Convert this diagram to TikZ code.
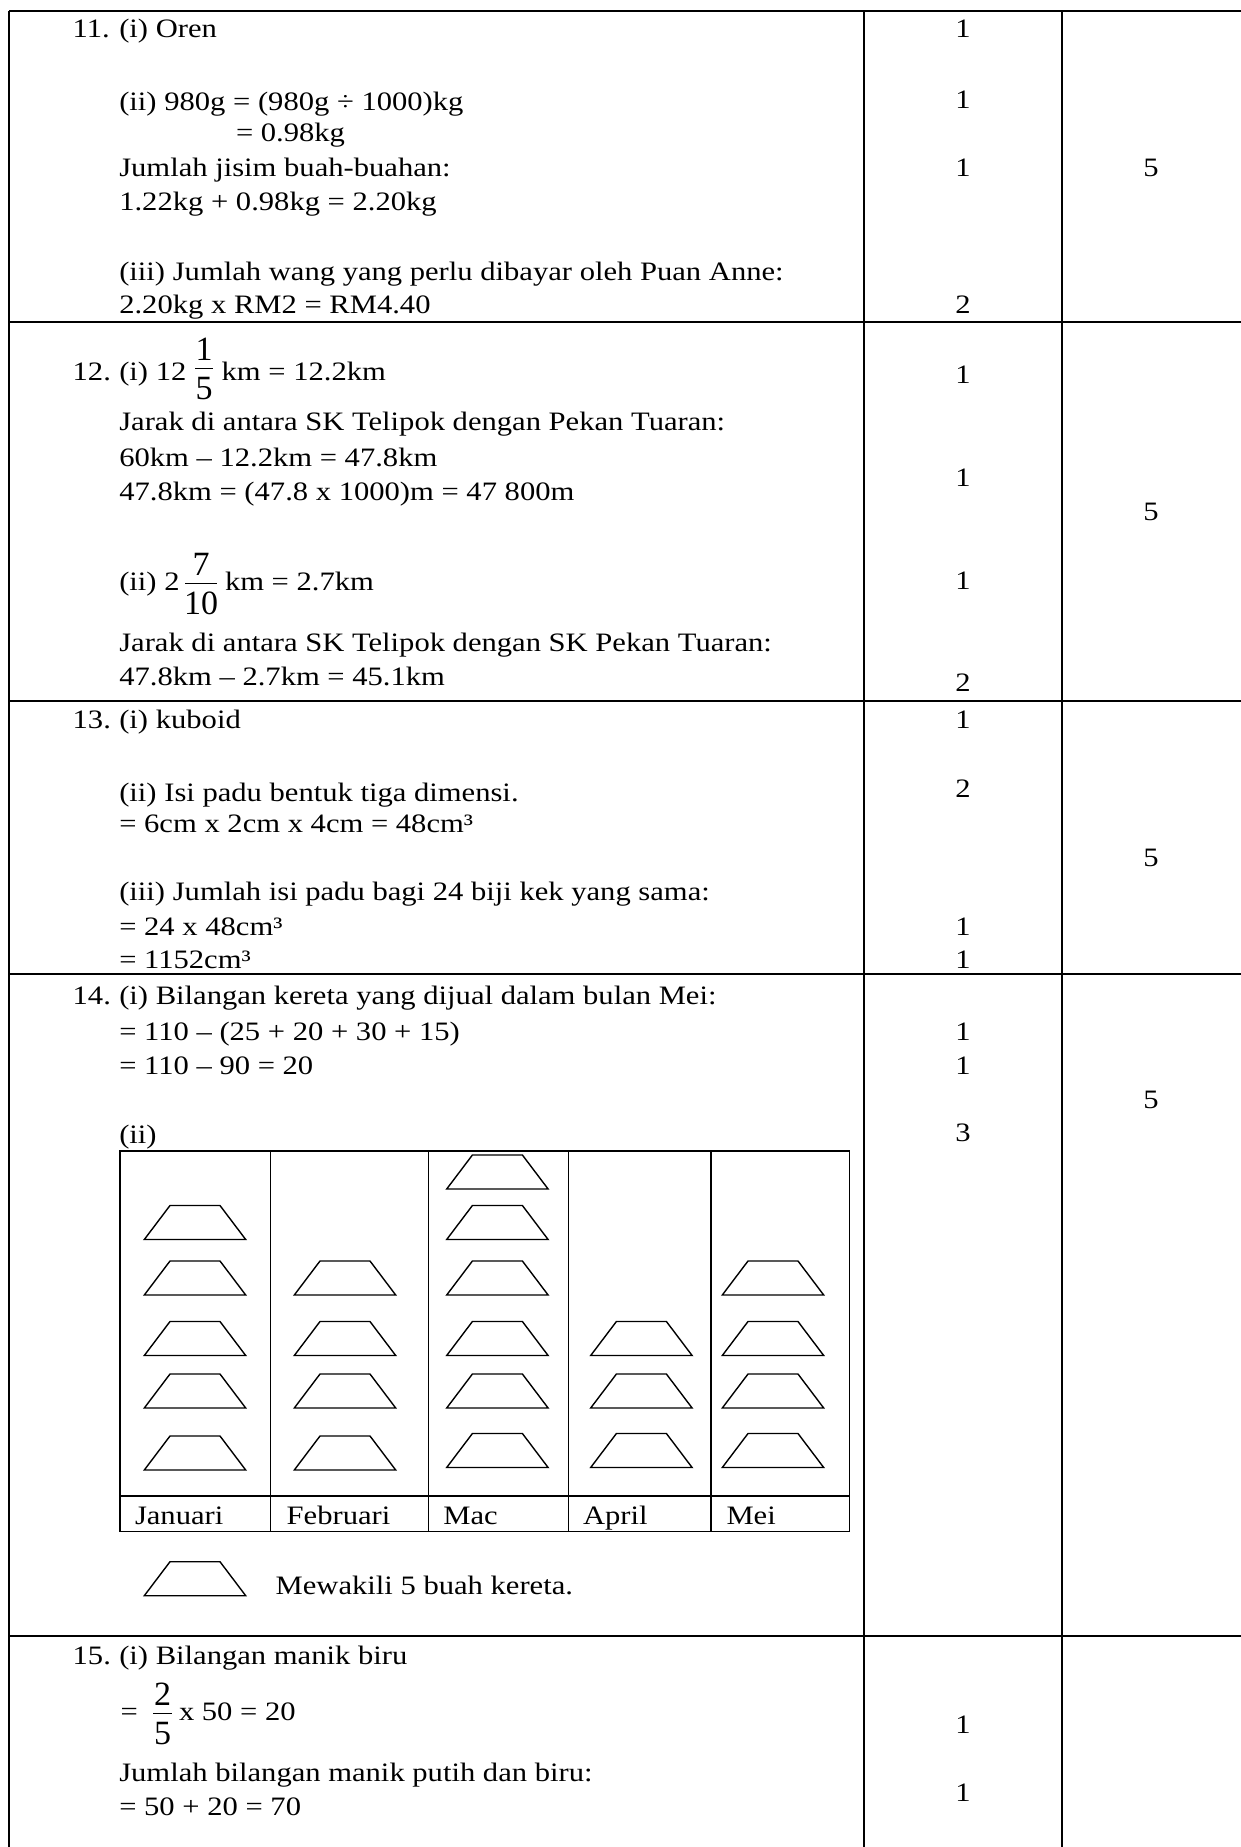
\documentclass[tikz,border=0pt]{standalone}
\usepackage{fontspec}
\setmainfont{Liberation Serif}[FakeStretch=1.15]
\newfontfamily\fracfont{Liberation Serif}
\newcommand\bodyfs{\fontsize{13.3pt}{16pt}\selectfont}
\newcommand\fracfs{\fracfont\fontsize{17pt}{20pt}\selectfont}
\begin{document}
\begin{tikzpicture}[x=0.5pt,y=-0.5pt,
  tx/.style={anchor=base west,inner sep=0pt,outer sep=0pt,font=\bodyfs},
  mk/.style={anchor=base,inner sep=0pt,outer sep=0pt,font=\bodyfs},
  fdig/.style={anchor=base,inner sep=0pt,outer sep=0pt,font=\fracfs},
  tablerule/.style={line width=1pt},
  chartrule/.style={line width=0.75pt},
  fracbar/.style={line width=0.65pt},
  trapline/.style={line width=0.7pt,line join=miter}]
\path[use as bounding box] (0,0) rectangle (1241,1847);
\clip (0,0) rectangle (1241,1847);
% ---------- table frame ----------
\foreach \yy in {10.7,321.7,701,974.3,1636}{
  \draw[tablerule] (9,\yy) -- (1260,\yy);}
\foreach \xx in {9,864,1061.7}{
  \draw[tablerule] (\xx,10.7) -- (\xx,1870);}
% ---------- fraction helper ----------
\newcommand\mkfrac[6]{%
  \node[fdig] (#1n) at (#2,{#3-8}) {#4};
  \node[fdig] (#1d) at (#2,{#3+31}) {#5};
  \draw[fracbar] ({#2-#6},#3) -- ({#2+#6},#3);}
\newcommand\trap[2]{%
  \draw[trapline] (#1,{#2+34}) -- ({#1+101.4},{#2+34}) -- ({#1+75.7},#2) -- ({#1+25.7},#2) -- cycle;}
% ---------- row 11 ----------
\node[tx] (n11) at (72.7,38) {11.};
\node[tx] (l11a) at (119.3,38) {(i) Oren};
\node[tx] (l11b) at (119.3,110) {(ii) 980g = (980g ÷ 1000)kg};
\node[tx] (l11c) at (236,141.7) {= 0.98kg};
\node[tx] (l11d) at (119.3,176) {Jumlah jisim buah-buahan:};
\node[tx] (l11e) at (119.3,210.7) {1.22kg + 0.98kg = 2.20kg};
\node[tx] (l11f) at (119.3,280) {(iii) Jumlah wang yang perlu dibayar oleh Puan Anne:};
\node[tx] (l11g) at (119.3,313) {2.20kg x RM2 = RM4.40};
\node[mk] (m11a) at (963,38) {1};
\node[mk] (m11b) at (963,108) {1};
\node[mk] (m11c) at (963,176) {1};
\node[mk] (m11d) at (963,313) {2};
\node[mk] (s11) at (1151,176) {5};
% ---------- row 12 ----------
\node[tx] (n12) at (72.7,380.7) {12.};
\node[tx] (l12a) at (119.3,380.7) {(i) 12};
\mkfrac{fa}{204}{368.3}{1}{5}{9}
\node[tx] (l12a2) at (221.7,380.7) {km = 12.2km};
\node[tx] (l12b) at (119.3,430) {Jarak di antara SK Telipok dengan Pekan Tuaran:};
\node[tx] (l12c) at (119.3,466) {60km – 12.2km = 47.8km};
\node[tx] (l12d) at (119.3,500) {47.8km = (47.8 x 1000)m = 47 800m};
\node[tx] (l12e) at (119.3,590) {(ii) 2};
\mkfrac{fb}{201}{583.3}{7}{10}{16}
\node[tx] (l12e2) at (225,590) {km = 2.7km};
\node[tx] (l12f) at (119.3,651.7) {Jarak di antara SK Telipok dengan SK Pekan Tuaran:};
\node[tx] (l12g) at (119.3,685) {47.8km – 2.7km = 45.1km};
\node[mk] (m12a) at (963,383) {1};
\node[mk] (m12b) at (963,486) {1};
\node[mk] (m12c) at (963,589) {1};
\node[mk] (m12d) at (963,691.7) {2};
\node[mk] (s12) at (1151,520) {5};
% ---------- row 13 ----------
\node[tx] (n13) at (72.7,728.3) {13.};
\node[tx] (l13a) at (119.3,728.3) {(i) kuboid};
\node[tx] (l13b) at (119.3,801.7) {(ii) Isi padu bentuk tiga dimensi.};
\node[tx] (l13c) at (119.3,832) {= 6cm x 2cm x 4cm = 48cm³};
\node[tx] (l13d) at (119.3,900) {(iii) Jumlah isi padu bagi 24 biji kek yang sama:};
\node[tx] (l13e) at (119.3,935) {= 24 x 48cm³};
\node[tx] (l13f) at (119.3,968) {= 1152cm³};
\node[mk] (m13a) at (963,728) {1};
\node[mk] (m13b) at (963,797) {2};
\node[mk] (m13c) at (963,935) {1};
\node[mk] (m13d) at (963,968) {1};
\node[mk] (s13) at (1151,866.7) {5};
% ---------- row 14 ----------
\node[tx] (n14) at (72.7,1004) {14.};
\node[tx] (l14a) at (119.3,1004) {(i) Bilangan kereta yang dijual dalam bulan Mei:};
\node[tx] (l14b) at (119.3,1040) {= 110 – (25 + 20 + 30 + 15)};
\node[tx] (l14c) at (119.3,1074) {= 110 – 90 = 20};
\node[tx] (l14d) at (119.3,1143) {(ii)};
\node[mk] (m14a) at (963,1040) {1};
\node[mk] (m14b) at (963,1074) {1};
\node[mk] (m14c) at (963,1141.7) {3};
\node[mk] (s14) at (1151,1108) {5};
% pictograph frame
\draw[chartrule] (120,1151) rectangle (849.3,1531.7);
\foreach \xx in {270.7,428.3,568.3,711}{
  \draw[chartrule] (\xx,1151) -- (\xx,1531.7);}
\draw[line width=1pt] (120,1496) -- (849.3,1496);
\node[tx] (cJan) at (135,1524) {Januari};
\node[tx] (cFeb) at (286.7,1524) {Februari};
\node[tx] (cMac) at (443.3,1524) {Mac};
\node[tx] (cApr) at (583,1524) {April};
\node[tx] (cMei) at (726.5,1524) {Mei};
% trapezoids
\foreach \yy in {1205.5,1261,1321.5,1374,1436}{\trap{144.3}{\yy}}
\foreach \yy in {1261,1321.5,1374,1436}{\trap{294.3}{\yy}}
\foreach \yy in {1155,1205.5,1261,1321.5,1374,1433.5}{\trap{446.7}{\yy}}
\foreach \yy in {1321.5,1374,1433.5}{\trap{590.7}{\yy}}
\foreach \yy in {1261,1321.5,1374,1433.5}{\trap{722.3}{\yy}}
% legend
\trap{144.3}{1561.7}
\node[tx] (legend) at (275.7,1594.3) {Mewakili 5 buah kereta.};
% ---------- row 15 ----------
\node[tx] (n15) at (72.7,1664.3) {15.};
\node[tx] (l15a) at (119.3,1664.3) {(i) Bilangan manik biru};
\node[tx] (l15b) at (120.7,1720) {=};
\mkfrac{fc}{162.5}{1713.3}{2}{5}{9.2}
\node[tx] (l15b2) at (179,1720) {x 50 = 20};
\node[tx] (l15c) at (119.3,1781.7) {Jumlah bilangan manik putih dan biru:};
\node[tx] (l15d) at (119.3,1815) {= 50 + 20 = 70};
\node[mk] (m15a) at (963,1733.3) {1};
\node[mk] (m15b) at (963,1801.7) {1};
\end{tikzpicture}
\end{document}
